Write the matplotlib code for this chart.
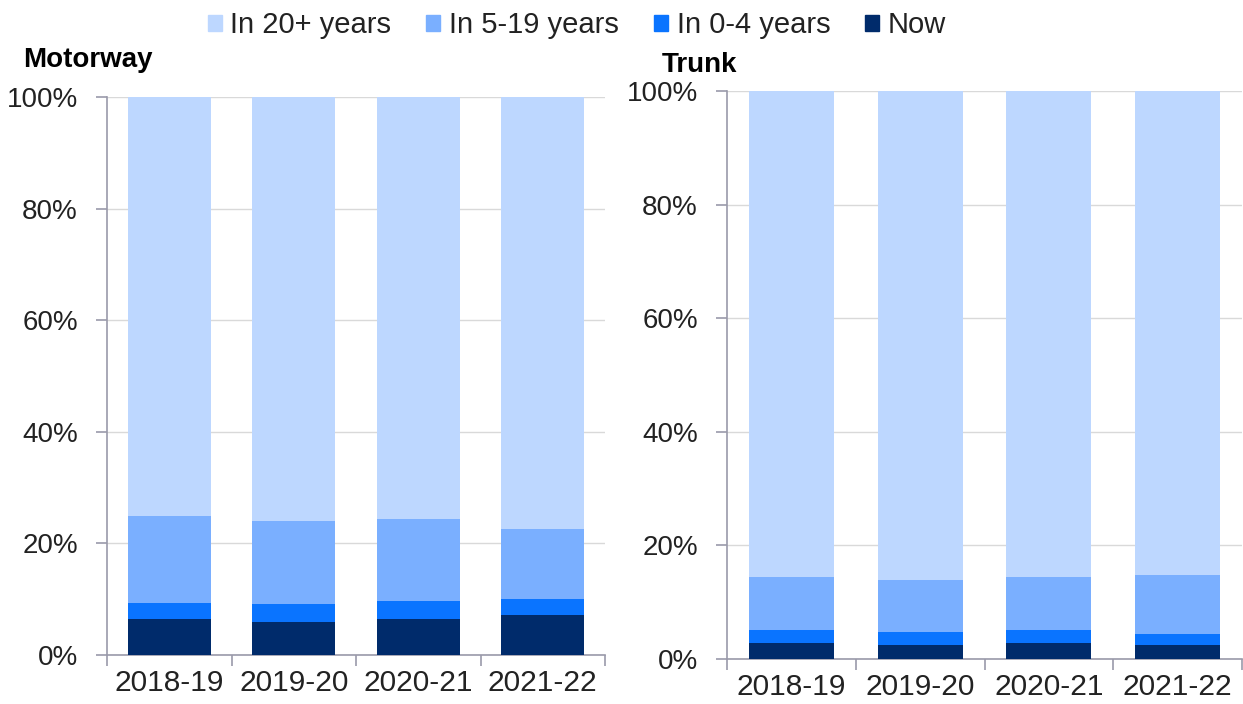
import matplotlib.pyplot as plt
from matplotlib.patches import Patch
from matplotlib.ticker import FixedLocator, PercentFormatter
import numpy as np

plt.rcParams['font.family'] = ['Liberation Sans', 'DejaVu Sans']

years = ['2018-19', '2019-20', '2020-21', '2021-22']
series = ['Now', 'In 0-4 years', 'In 5-19 years', 'In 20+ years']
colors = ['#002b6b', '#0a74ff', '#7aafff', '#bdd7ff']

# motorway, % of network by time to replacement
mw_now = [6.4, 6.0, 6.4, 7.1]
mw_0_4 = [3.0, 3.1, 3.3, 3.0]
mw_5_19 = [15.6, 14.9, 14.6, 12.5]
mw_20 = [75.0, 76.0, 75.7, 77.4]

# trunk
tr_now = [2.75, 2.4, 2.75, 2.4]
tr_0_4 = [2.3, 2.35, 2.3, 2.0]
tr_5_19 = [9.45, 9.1, 9.45, 10.4]
tr_20 = [85.5, 86.15, 85.5, 85.2]

fig = plt.figure(figsize=(12.43, 7.04), dpi=100)
ax1 = fig.add_axes([107 / 1243, 49 / 704, 498 / 1243, 558 / 704])
ax2 = fig.add_axes([727 / 1243, 45 / 704, 515 / 1243, 568 / 704])

spine_col = '#9a9aaa'


def draw(ax, data, width):
    x = np.arange(len(years))
    bottom = np.zeros(len(years))
    for vals, c in zip(data, colors):
        ax.bar(x, vals, width, bottom=bottom, color=c, zorder=3)
        bottom += np.array(vals)
    ax.set_xlim(-0.5, len(years) - 0.5)
    ax.set_ylim(0, 100)
    ax.set_yticks(range(0, 101, 20))
    ax.yaxis.set_major_formatter(PercentFormatter(decimals=0))
    ax.set_xticks(x)
    ax.set_xticklabels(years)
    ax.xaxis.set_minor_locator(FixedLocator(np.arange(-0.5, len(years), 1)))
    ax.tick_params(axis='x', which='major', length=0, labelsize=21.5, pad=10, colors='#222222')
    ax.tick_params(axis='x', which='minor', length=8, color=spine_col, width=1.2)
    ax.tick_params(axis='y', length=8, color=spine_col, width=1.2, labelsize=20, pad=13,
                   labelcolor='#222222')
    ax.grid(axis='y', color='#d9d9d9', linewidth=1, zorder=0)
    for s in ['top', 'right']:
        ax.spines[s].set_visible(False)
    for s in ['left', 'bottom']:
        ax.spines[s].set_color(spine_col)
        ax.spines[s].set_linewidth(1.2)


draw(ax1, [mw_now, mw_0_4, mw_5_19, mw_20], 0.67)
draw(ax2, [tr_now, tr_0_4, tr_5_19, tr_20], 0.66)

fig.text(23 / 1243, 1 - 67 / 704, 'Motorway', fontsize=20, fontweight='bold', va='baseline')
fig.text(662 / 1243, 1 - 72 / 704, 'Trunk', fontsize=20, fontweight='bold', va='baseline')

handles = [Patch(color=c, label=l) for c, l in zip(colors[::-1], series[::-1])]
fig.legend(handles=handles, loc='center', bbox_to_anchor=(577 / 1243, 1 - 25 / 704),
           ncol=4, frameon=False, fontsize=21, handlelength=0.48, handleheight=0.48,
           handletextpad=0.3, columnspacing=1.2, borderpad=0, labelcolor='#222222')

fig.savefig('out.png', dpi=100)
